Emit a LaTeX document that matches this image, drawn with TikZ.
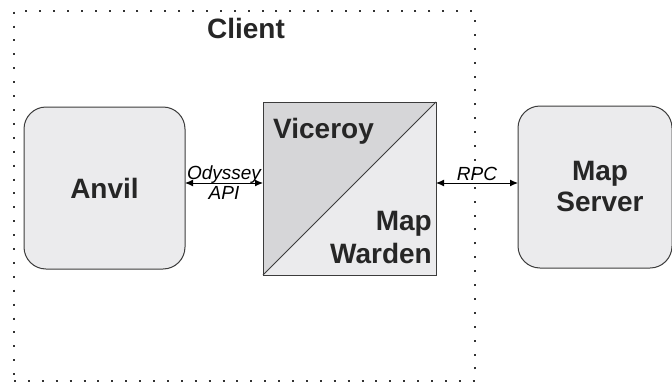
\documentclass[tikz,border=0pt]{standalone}
\usepackage{fontspec}
\setmainfont{Liberation Sans}
\usetikzlibrary{arrows.meta}
\definecolor{boxfill}{RGB}{235,235,237}
\definecolor{darkfill}{RGB}{214,214,216}
\definecolor{edge}{RGB}{60,60,60}
\begin{document}
\begin{tikzpicture}[x=1pt,y=-1pt,
  roundbox/.style={draw=edge, fill=boxfill, line width=1pt, rounded corners=22pt, outer sep=0pt,
    font=\bfseries\fontsize{28}{31}\selectfont, align=center, text=black!85},
  bigtxt/.style={font=\bfseries\fontsize{28}{31}\selectfont, text=black!85, inner sep=0pt},
  smalltxt/.style={font=\itshape\fontsize{19}{20}\selectfont, inner sep=0pt, align=center},
  frame/.style={draw=black!80, line width=2pt, dash pattern=on 2pt off 11.9pt},
  arr/.style={{Latex[length=8pt,width=7pt]}-{Latex[length=8pt,width=7pt]}, line width=1pt, black}]
\useasboundingbox (0,0) rectangle (672,383);
\node[frame, minimum width=461pt, minimum height=370pt, anchor=north west, inner sep=0pt, outer sep=0pt] (client) at (14,11) {};
\node[bigtxt] (clientlbl) at (246,28) {Client};
\node[roundbox, minimum width=161pt, minimum height=162pt] (anvil) at (104.5,188) {Anvil};
\node[roundbox, minimum width=154pt, minimum height=162pt] (server) at (595,187) {\hspace*{10pt}Map\\\hspace*{10pt}Server};
\node[draw=edge, fill=boxfill, line width=0.8pt, minimum size=173pt, inner sep=0pt, outer sep=0pt, anchor=north west] (mid) at (263,102) {};
\fill[darkfill] (mid.south west) -- (mid.north west) -- (mid.north east) -- cycle;
\draw[edge, line width=0.8pt] (mid.south west) -- (mid.north east);
\draw[edge, line width=0.8pt] (mid.north west) rectangle (mid.south east);
\node[bigtxt, anchor=base west] (viceroy) at (273,138) {Viceroy};
\node[bigtxt, anchor=base east] (map) at (432,230) {Map};
\node[bigtxt, anchor=base east] (warden) at (432,263) {Warden};
\draw[arr] ([yshift=5pt]anvil.east) -- node[smalltxt] (ody) {Odyssey\\API} ([yshift=5.5pt]mid.west);
\draw[arr] ([yshift=5.5pt]mid.east) -- node[smalltxt, anchor=base, yshift=3pt] (rpc) {RPC} ([yshift=4pt]server.west);
\end{tikzpicture}
\end{document}
